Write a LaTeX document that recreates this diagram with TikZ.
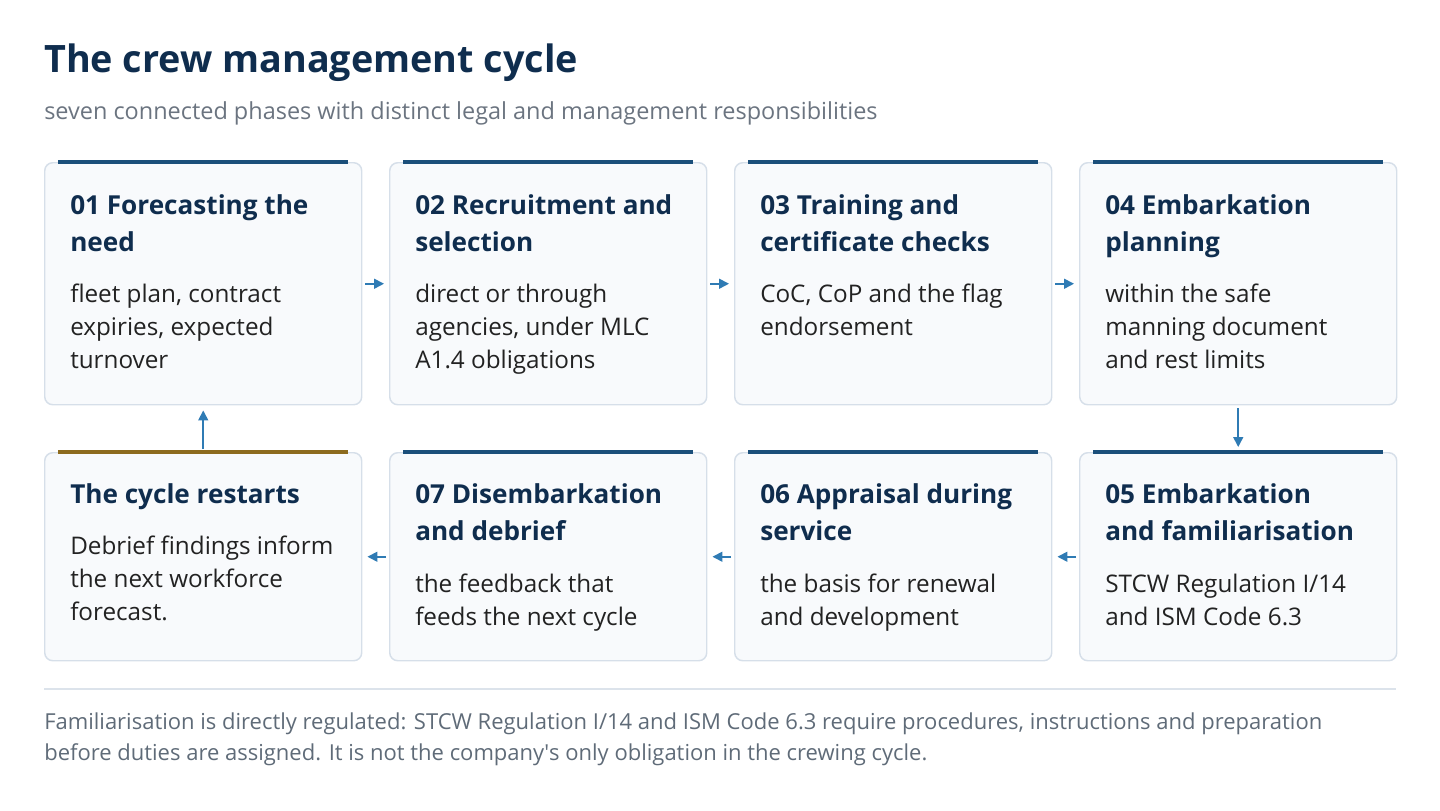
\documentclass[tikz,border=0pt]{standalone}
\usepackage{fontspec}
\setmainfont{Open Sans}
\usetikzlibrary{arrows.meta,calc}
\definecolor{navy}{HTML}{0F2D4E}
\definecolor{barblue}{HTML}{1B4F7A}
\definecolor{arrowblue}{HTML}{2F7BB4}
\definecolor{gold}{HTML}{8D6B1E}
\definecolor{boxfill}{HTML}{F8FAFC}
\definecolor{boxline}{HTML}{D6DFE9}
\definecolor{bodytext}{HTML}{222222}
\definecolor{subgray}{HTML}{6B7480}
\definecolor{footgray}{HTML}{5F6B78}
\definecolor{sepline}{HTML}{DCE3EB}
\tikzset{
  phasebox/.style={draw=boxline, line width=1.1pt, fill=boxfill, rounded corners=6pt,
    minimum width=237.75pt, inner sep=0pt, anchor=north west},
  phasetitle/.style={anchor=base west, inner sep=0pt, align=left, text=navy,
    font=\fontsize{19.6}{27.75}\selectfont\bfseries},
  phasebody/.style={anchor=base west, inner sep=0pt, align=left, text=bodytext,
    font=\fontsize{18.2}{24.75}\selectfont},
  topbar/.style={line width=3pt, draw=barblue},
  flow/.style={draw=arrowblue, line width=1.2pt, -{Triangle[length=7.5pt,width=7.5pt]}}
}
\begin{document}
\begin{tikzpicture}[x=0.75pt,y=-0.75pt]
\useasboundingbox (0,0) rectangle (1440,811);
% title
\node[anchor=base west, inner sep=0pt, text=navy, font=\fontsize{28.3}{32}\selectfont\bfseries] (title) at (44,72) {The crew management cycle};
\node[anchor=base west, inner sep=0pt, text=subgray, font=\fontsize{17.6}{20}\selectfont] (subtitle) at (44,119) {seven connected phases with distinct legal and management responsibilities};
% row 1 boxes
\node[phasebox, minimum height=181.5pt] (b1) at (44,162) {};
\node[phasebox, minimum height=181.5pt] (b2) at (389,162) {};
\node[phasebox, minimum height=181.5pt] (b3) at (734,162) {};
\node[phasebox, minimum height=181.5pt] (b4) at (1079,162) {};
% row 2 boxes
\node[phasebox, minimum height=156pt] (br) at (44,452) {};
\node[phasebox, minimum height=156pt] (b7) at (389,452) {};
\node[phasebox, minimum height=156pt] (b6) at (734,452) {};
\node[phasebox, minimum height=156pt] (b5) at (1079,452) {};
% top bars
\foreach \b in {b1,b2,b3,b4,b5,b6,b7}{
  \draw[topbar] ($(\b.north west)+(14,0)$) -- ($(\b.north east)+(-14,0)$);
}
\draw[topbar, draw=gold] ($(br.north west)+(14,0)$) -- ($(br.north east)+(-14,0)$);
% texts row 1 (anchor = baseline of last line)
\node[phasetitle] (t1) at (70,251) {01 Forecasting the\\need};
\node[phasebody] (d1) at (70,368) {fleet plan, contract\\expiries, expected\\turnover};
\node[phasetitle] (t2) at (415,251) {02 Recruitment and\\selection};
\node[phasebody] (d2) at (415,368) {direct or through\\agencies, under MLC\\A1.4 obligations};
\node[phasetitle] (t3) at (760,251) {03 Training and\\certificate checks};
\node[phasebody] (d3) at (760,335) {CoC, CoP and the flag\\endorsement};
\node[phasetitle] (t4) at (1105,251) {04 Embarkation\\planning};
\node[phasebody] (d4) at (1105,368) {within the safe\\manning document\\and rest limits};
% texts row 2
\node[phasetitle] (tr) at (70,503) {The cycle restarts};
\node[phasebody] (dr) at (70,620) {Debrief findings inform\\the next workforce\\forecast.};
\node[phasetitle] (t7) at (415,540) {07 Disembarkation\\and debrief};
\node[phasebody] (d7) at (415,625) {the feedback that\\feeds the next cycle};
\node[phasetitle] (t6) at (760,540) {06 Appraisal during\\service};
\node[phasebody] (d6) at (760,625) {the basis for renewal\\and development};
\node[phasetitle] (t5) at (1105,540) {05 Embarkation\\and familiarisation};
\node[phasebody] (d5) at (1105,625) {STCW Regulation I/14\\and ISM Code 6.3};
% arrows
\draw[flow] ($(b1.east)+(3,0)$) -- ($(b2.west)+(-5,0)$);
\draw[flow] ($(b2.east)+(3,0)$) -- ($(b3.west)+(-5,0)$);
\draw[flow] ($(b3.east)+(3,0)$) -- ($(b4.west)+(-5,0)$);
\draw[flow] ($(b4.south)+(0,3)$) -- ($(b5.north)+(0,-5)$);
\draw[flow] ($(b5.west)+(-3,0)$) -- ($(b6.east)+(5,0)$);
\draw[flow] ($(b6.west)+(-3,0)$) -- ($(b7.east)+(5,0)$);
\draw[flow] ($(b7.west)+(-3,0)$) -- ($(br.east)+(5,0)$);
\draw[flow] ($(br.north)+(0,-3)$) -- ($(b1.south)+(0,5)$);
% separator and footnote
\coordinate (sepL) at (44,689);
\coordinate (sepR) at (1396,689);
\draw[draw=sepline, line width=1.1pt] (sepL) -- (sepR);
\node[anchor=base west, inner sep=0pt, align=left, text=footgray, font=\fontsize{16.5}{23.25}\selectfont] (foot) at (44,760) {Familiarisation is directly regulated: STCW Regulation I/14 and ISM Code 6.3 require procedures, instructions and preparation\\before duties are assigned. It is not the company\textquotesingle s only obligation in the crewing cycle.};
\end{tikzpicture}
\end{document}
